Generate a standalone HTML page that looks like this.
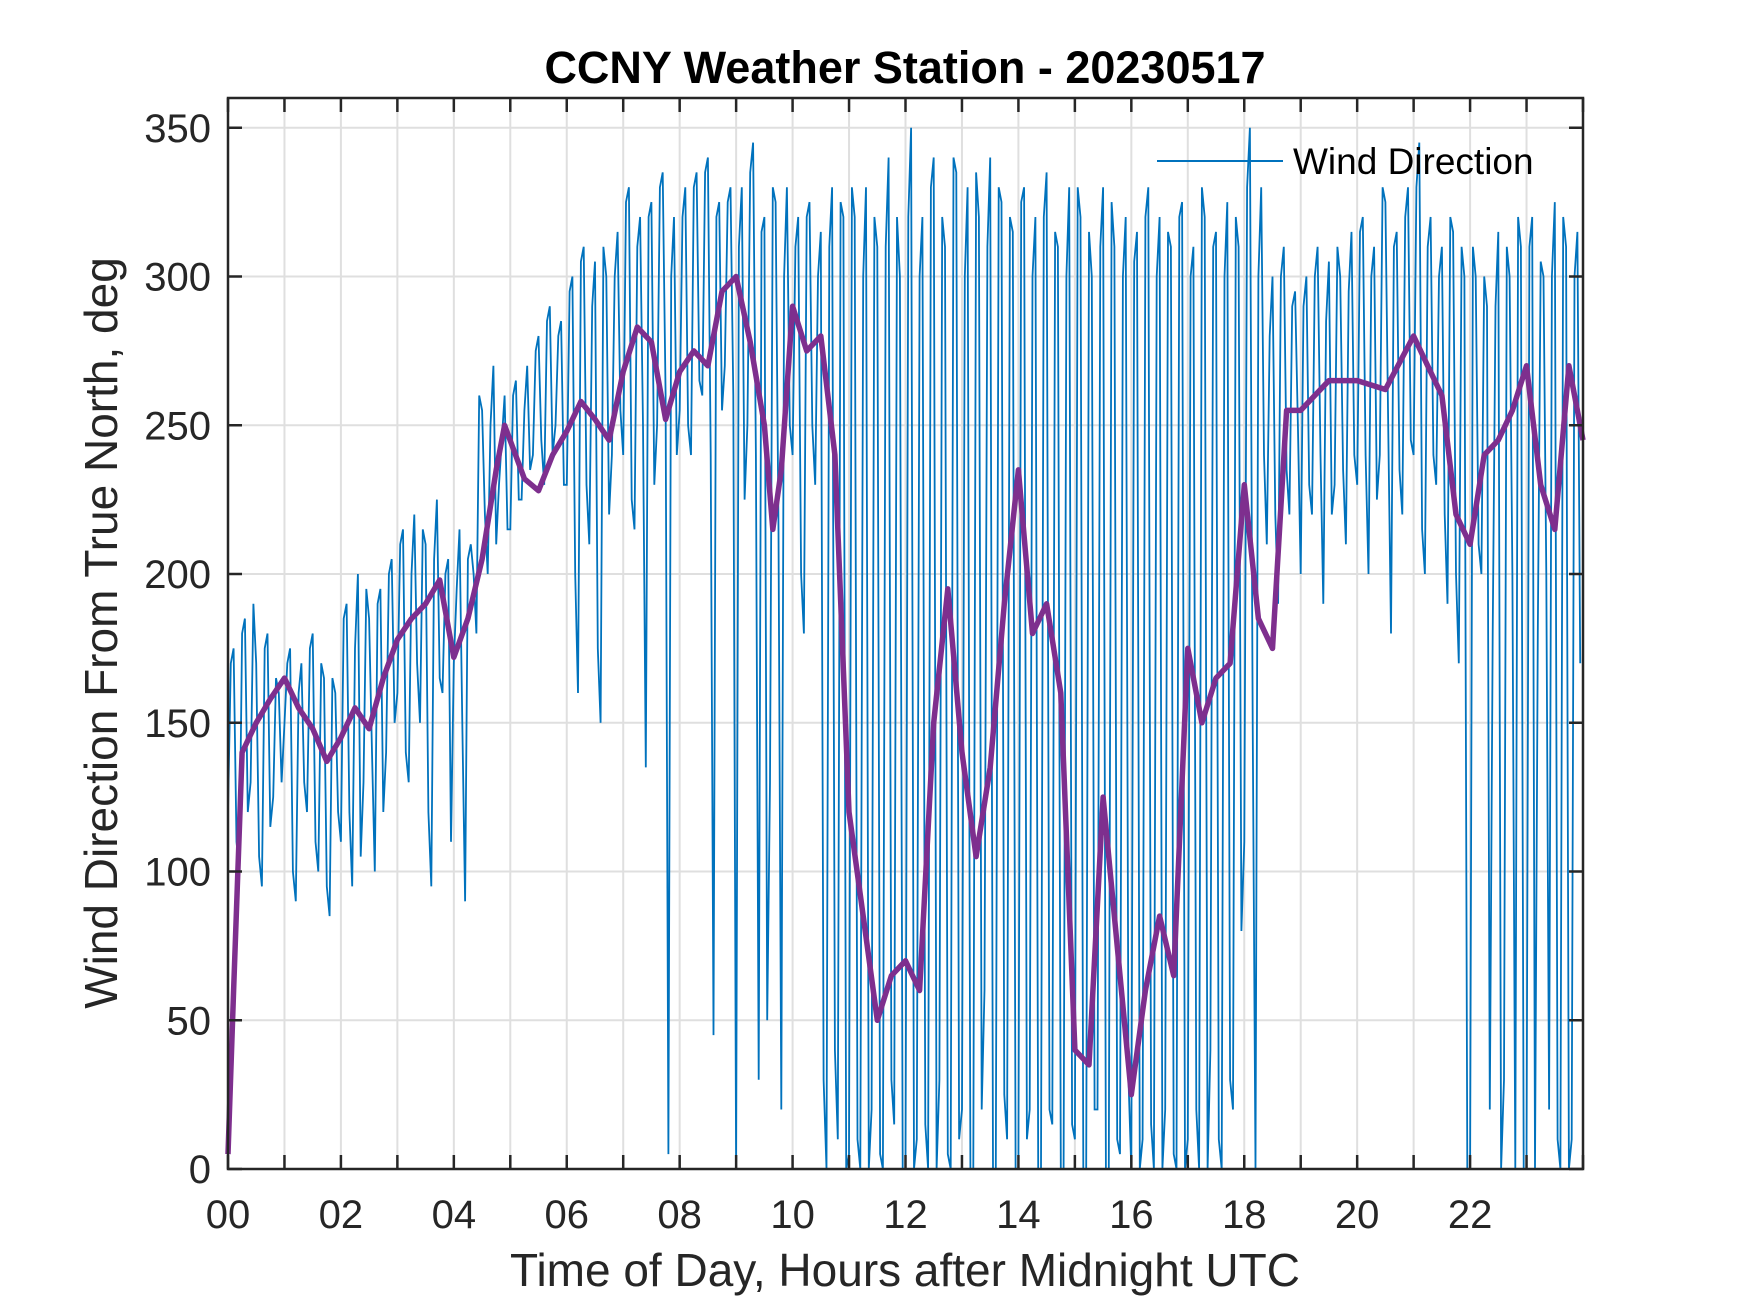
<!DOCTYPE html>
<html><head><meta charset="utf-8"><style>
html,body{margin:0;padding:0;background:#fff;}
svg{display:block;font-family:"Liberation Sans",Arial,sans-serif;}
</style></head><body>
<svg id="chart" width="1750" height="1313" viewBox="0 0 1750 1313" xmlns="http://www.w3.org/2000/svg">
<rect x="0" y="0" width="1750" height="1313" fill="#fff"/>
<g id="grid"></g>
<g id="series"></g>
<g id="axes"></g>
<text x="905" y="83" text-anchor="middle" font-size="45" font-weight="bold" fill="#000">CCNY Weather Station - 20230517</text>
<text x="905" y="1286" text-anchor="middle" font-size="46" fill="#262626">Time of Day, Hours after Midnight UTC</text>
<text transform="translate(117,633) rotate(-90)" text-anchor="middle" font-size="46" fill="#262626">Wind Direction From True North, deg</text>
<g>
<line x1="1157" y1="161" x2="1283" y2="161" stroke="#0072BD" stroke-width="2"/>
<text x="1293" y="174" font-size="37" fill="#000">Wind Direction</text>
</g>
</svg>
<script>
const windValues = [
120,175,100,185,130,170,95,180,125,160,
150,175,90,170,120,180,100,165,85,160,
110,190,95,200,130,185,100,195,140,205,
160,215,130,220,150,210,95,225,160,205,
170,215,90,210,180,255,200,270,230,260,
215,265,225,270,240,280,230,290,250,285,
230,300,160,310,210,305,150,300,240,315,
240,330,215,320,135,325,250,335,5,320,
255,330,240,335,260,340,45,325,270,330,
0,330,250,345,30,320,130,325,20,330,
240,320,180,325,230,315,0,330,10,320,
5,320,0,330,20,310,0,340,15,300,
0,350,10,320,0,340,30,310,0,335,
20,330,0,320,60,340,0,325,10,315,
0,330,20,320,0,335,15,310,0,330,
10,320,0,300,20,330,0,310,5,320,
0,315,10,330,0,320,20,310,0,325,
10,310,0,320,40,315,0,325,20,310,
110,350,0,330,210,300,190,310,220,295,
200,300,220,310,190,305,230,300,210,315,
230,320,200,310,240,325,180,315,220,330,
240,345,200,320,230,310,190,315,170,300,
0,300,200,290,180,315,30,300,0,310,
0,320,180,300,20,325,0,310,10,315
];
const windValuesOffset = [
170,110,180,120,190,105,175,115,165,130,
170,100,160,130,175,110,170,95,165,120,
185,120,175,105,195,140,190,120,200,150,
210,140,200,170,215,120,205,165,200,110,
195,150,205,200,260,220,250,210,245,215,
260,225,255,235,275,245,285,240,280,230,
295,200,305,230,290,175,310,220,300,255,
325,225,310,250,320,230,330,260,300,240,
320,250,330,265,335,240,320,255,325,260,
310,225,335,240,315,50,330,215,300,250,
310,200,320,250,300,30,310,40,325,0,
330,10,300,0,320,5,310,30,320,0,
320,0,300,15,330,0,320,5,340,10,
300,0,335,20,310,0,330,25,320,0,
325,10,300,0,320,20,315,0,300,15,
330,0,315,20,310,0,325,10,300,30,
305,0,320,15,300,0,315,5,320,0,
300,20,330,0,310,10,300,30,320,80,
330,150,300,240,280,220,300,235,290,250,
290,230,300,240,285,220,310,235,295,240,
315,240,300,225,330,250,310,235,320,245,
330,215,310,240,300,220,320,200,310,0,
310,210,300,20,290,0,310,200,320,0,
310,0,305,200,300,10,320,0,300,170
];
const windStepHours = 0.1;
const avgHours = [0,0.1,0.25,0.5,0.75,1,1.25,1.5,1.75,2,2.25,2.5,2.75,3,3.25,3.5,3.75,4,4.25,4.5,4.75,4.9,5.25,5.5,5.75,6,6.25,6.5,6.75,7,7.25,7.5,7.75,8,8.25,8.5,8.75,9,9.25,9.5,9.65,9.8,10,10.25,10.5,10.75,11,11.25,11.5,11.75,12,12.25,12.5,12.75,13,13.25,13.5,13.75,14,14.25,14.5,14.75,15,15.25,15.5,15.75,16,16.25,16.5,16.75,17,17.25,17.5,17.75,18,18.25,18.5,18.75,19,19.5,20,20.5,21,21.25,21.5,21.75,22,22.25,22.5,22.75,23,23.25,23.5,23.75,24];
const avgValues = [5,60,140,150,158,165,155,148,137,145,155,148,165,178,185,190,198,172,185,205,235,250,232,228,240,248,258,252,245,268,283,278,252,268,275,270,295,300,278,250,215,235,290,275,280,240,120,85,50,65,70,60,150,195,140,105,135,190,235,180,190,160,40,35,125,75,25,60,85,65,175,150,165,170,230,185,175,255,255,265,265,262,280,270,260,220,210,240,245,255,270,230,215,270,245];
const xTickLabels = ["00","02","04","06","08","10","12","14","16","18","20","22"];
const yTickLabels = ["0","50","100","150","200","250","300","350"];

const L=228,R=1583,T=98,B=1169,XMAX=24,YMAX=360;
const NS="http://www.w3.org/2000/svg";
function xs(h){return L+(R-L)*h/XMAX;}
function ys(v){return B-(B-T)*v/YMAX;}
function mk(tag,attrs,parent){const e=document.createElementNS(NS,tag);for(const k in attrs)e.setAttribute(k,attrs[k]);parent.appendChild(e);return e;}
const grid=document.getElementById('grid'),series=document.getElementById('series'),axes=document.getElementById('axes');
for(let h=1;h<XMAX;h++){
  const g=mk('line',{x1:xs(h),x2:xs(h),y1:T,y2:B,stroke:'#dfdfdf','stroke-width':2},grid);
  
  
}
for(let i=1;i<yTickLabels.length;i++){
  const v=+yTickLabels[i];
  const g=mk('line',{x1:L,x2:R,y1:ys(v),y2:ys(v),stroke:'#dfdfdf','stroke-width':2},grid);
  
  
}
let d='';
windValues.forEach((v,i)=>{
  d+=(i?'L':'M')+xs(i*windStepHours).toFixed(1)+' '+ys(v).toFixed(1);
  if(i<windValuesOffset.length) d+='L'+xs((i+0.5)*windStepHours).toFixed(1)+' '+ys(windValuesOffset[i]).toFixed(1);
});
const wl=mk('path',{d:d,fill:'none',stroke:'#0072BD','stroke-width':1.8,'stroke-linejoin':'miter'},series);


let d2='';
avgHours.forEach((h,i)=>{d2+=(i?'L':'M')+xs(h).toFixed(1)+' '+ys(avgValues[i]).toFixed(1);});
const al=mk('path',{d:d2,fill:'none',stroke:'#7E2F8E','stroke-width':5.5,'stroke-linejoin':'round'},series);


const box=mk('rect',{x:L,y:T,width:R-L,height:B-T,fill:'none',stroke:'#262626','stroke-width':2.5},axes);


for(let h=0;h<=XMAX;h++){
  const t1=mk('line',{x1:xs(h),x2:xs(h),y1:B,y2:B-14,stroke:'#262626','stroke-width':2.5},axes);
  
  
  const t2=mk('line',{x1:xs(h),x2:xs(h),y1:T,y2:T+14,stroke:'#262626','stroke-width':2.5},axes);
  
  
}
xTickLabels.forEach((lab,i)=>{
  const t=mk('text',{x:xs(i*2),y:1228,'text-anchor':'middle','font-size':40,fill:'#262626'},axes);
  t.textContent=lab;
  
  
});
yTickLabels.forEach(lab=>{
  const v=+lab;
  const t1=mk('line',{x1:L,x2:L+14,y1:ys(v),y2:ys(v),stroke:'#262626','stroke-width':2.5},axes);
  
  
  const t2=mk('line',{x1:R,x2:R-14,y1:ys(v),y2:ys(v),stroke:'#262626','stroke-width':2.5},axes);
  
  
  const t=mk('text',{x:211,y:ys(v)+14,'text-anchor':'end','font-size':40,fill:'#262626'},axes);
  t.textContent=lab;
  
  
});
</script>
</body></html>
